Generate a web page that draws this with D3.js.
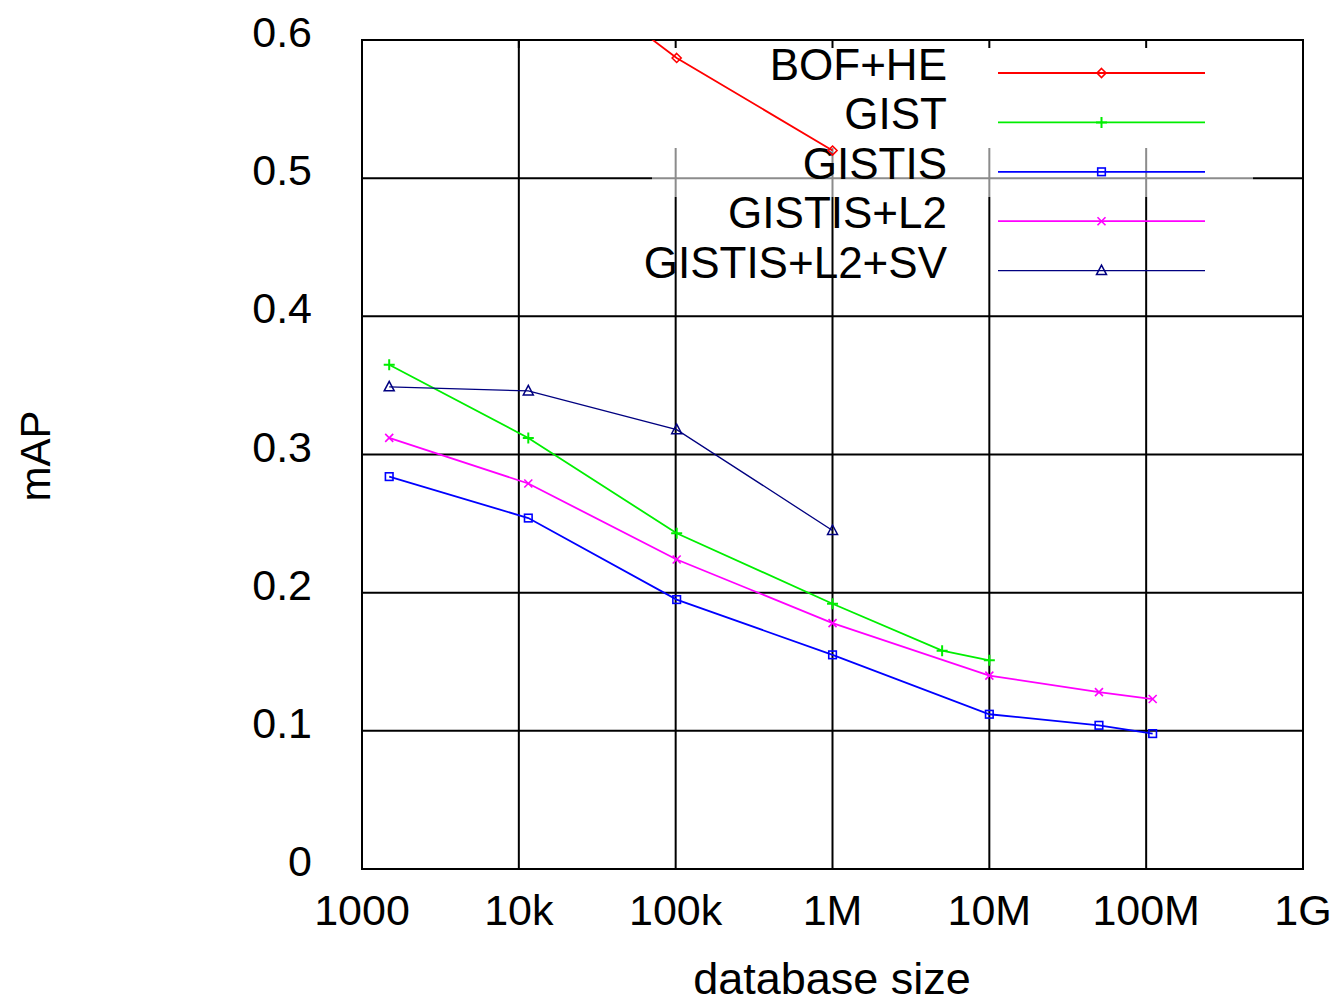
<!DOCTYPE html>
<html>
<head>
<meta charset="utf-8">
<script src="https://cdn.jsdelivr.net/npm/d3@7"></script>
<style>
	body { margin: 0; background: #fff; }
	text { font-family: "Liberation Sans", Arial, sans-serif; fill: #000; }
</style>
</head>
<body>
<svg id="chart"></svg>
<script>
// values
var seriesNames = ["BOF+HE", "GIST", "GISTIS", "GISTIS+L2", "GISTIS+L2+SV"];

var sizesBofHe = [11491, 101491, 1000491];
var mapBofHe = [0.668, 0.587, 0.520];

var sizesGist = [1491, 11491, 101491, 1000491, 5000000, 10000000];
var mapGist = [0.365, 0.312, 0.243, 0.192, 0.158, 0.151];

var sizesGistis = [1491, 11491, 101491, 1000491, 10000000, 50000000, 110000000];
var mapGistis = [0.284, 0.254, 0.195, 0.155, 0.112, 0.104, 0.098];

var sizesL2 = [1491, 11491, 101491, 1000491, 10000000, 50000000, 110000000];
var mapL2 = [0.312, 0.279, 0.224, 0.178, 0.140, 0.128, 0.123];

var sizesSV = [1491, 11491, 101491, 1000491];
var mapSV = [0.349, 0.346, 0.318, 0.245];

var xTicks = [1e3, 1e4, 1e5, 1e6, 1e7, 1e8, 1e9];
var xTickLabels = ["1000", "10k", "100k", "1M", "10M", "100M", "1G"];
var yTicks = [0, 0.1, 0.2, 0.3, 0.4, 0.5, 0.6];
var yTickLabels = ["0", "0.1", "0.2", "0.3", "0.4", "0.5", "0.6"];

(function() {
	var width = 1337, height = 1004;
	var margin = {left: 362, right: 34, top: 40, bottom: 135};
	var w = width - margin.left - margin.right,
	    h = height - margin.top - margin.bottom;

	var svg = d3.select("#chart")
	    .attr("width", width)
	    .attr("height", height);

	svg.append("defs").append("clipPath")
	    .attr("id", "clip")
	  .append("rect")
	    .attr("width", w)
	    .attr("height", h);

	var g = svg.append("g")
	    .attr("transform", "translate(" + margin.left + "," + margin.top + ")");

	var x = d3.scaleLog().domain([1e3, 1e9]).range([0, w]);
	var y = d3.scaleLinear().domain([0, 0.6]).range([h, 0]);

	var series = [
		{name: seriesNames[0], xs: sizesBofHe, ys: mapBofHe, color: "#ff0000", width: 1.8, sym: "diamond"},
		{name: seriesNames[1], xs: sizesGist, ys: mapGist, color: "#00ee00", width: 1.8, sym: "plus"},
		{name: seriesNames[2], xs: sizesGistis, ys: mapGistis, color: "#0000ff", width: 1.8, sym: "square"},
		{name: seriesNames[3], xs: sizesL2, ys: mapL2, color: "#ff00ff", width: 1.8, sym: "cross"},
		{name: seriesNames[4], xs: sizesSV, ys: mapSV, color: "#000080", width: 1.3, sym: "triangle"}
	];

	// grid
	g.selectAll(".vgrid").data(xTicks).enter().append("line")
	    .attr("x1", function(d) { return x(d); })
	    .attr("x2", function(d) { return x(d); })
	    .attr("y1", 0).attr("y2", h)
	    .attr("stroke", "#000").attr("stroke-width", 2);
	g.selectAll(".hgrid").data(yTicks).enter().append("line")
	    .attr("x1", 0).attr("x2", w)
	    .attr("y1", function(d) { return y(d); })
	    .attr("y2", function(d) { return y(d); })
	    .attr("stroke", "#000").attr("stroke-width", 2);

	// key box hides the grid behind the upper entries
	var key = {x0: 290, x1: 891, y0: 1, y1: 108, y2: 157};
	g.append("rect")
	    .attr("x", key.x0).attr("y", key.y0)
	    .attr("width", key.x1 - key.x0).attr("height", key.y1 - key.y0)
	    .attr("fill", "#fff");
	g.append("rect")
	    .attr("x", key.x0).attr("y", key.y1)
	    .attr("width", key.x1 - key.x0).attr("height", key.y2 - key.y1)
	    .attr("fill", "#fff").attr("opacity", 0.55);

	// inward ticks on top edge
	g.selectAll(".ttick").data(xTicks).enter().append("line")
	    .attr("x1", function(d) { return x(d); })
	    .attr("x2", function(d) { return x(d); })
	    .attr("y1", 0).attr("y2", 8)
	    .attr("stroke", "#000").attr("stroke-width", 2);

	// frame
	g.append("rect")
	    .attr("width", w).attr("height", h)
	    .attr("fill", "none")
	    .attr("stroke", "#000").attr("stroke-width", 2);

	// tick labels
	g.selectAll(".xlab").data(xTicks).enter().append("text")
	    .attr("x", function(d) { return x(d); })
	    .attr("y", h + 56)
	    .attr("text-anchor", "middle")
	    .style("font-size", "43px")
	    .text(function(d, i) { return xTickLabels[i]; });
	g.selectAll(".ylab").data(yTicks).enter().append("text")
	    .attr("x", -50)
	    .attr("y", function(d) { return y(d) + 7; })
	    .attr("text-anchor", "end")
	    .style("font-size", "43px")
	    .text(function(d, i) { return yTickLabels[i]; });

	// axis titles
	svg.append("text")
	    .attr("x", 832).attr("y", 994)
	    .attr("text-anchor", "middle")
	    .style("font-size", "45px")
	    .text("database size");
	svg.append("text")
	    .attr("transform", "translate(50,456) rotate(-90)")
	    .attr("text-anchor", "middle")
	    .style("font-size", "42px")
	    .text("mAP");

	var symbol = function(sel, s) {
		var r = 4.5;
		if (s.sym === "diamond") {
			sel.append("path").attr("d", "M0,-" + r + "L" + r + ",0L0," + r + "L-" + r + ",0Z")
			    .attr("fill", "none").attr("stroke", s.color).attr("stroke-width", 1.6);
		} else if (s.sym === "plus") {
			sel.append("path").attr("d", "M-5.5,0H5.5M0,-5.5V5.5")
			    .attr("stroke", s.color).attr("stroke-width", 2);
		} else if (s.sym === "square") {
			sel.append("rect").attr("x", -3.8).attr("y", -3.8).attr("width", 7.6).attr("height", 7.6)
			    .attr("fill", "none").attr("stroke", s.color).attr("stroke-width", 1.6);
		} else if (s.sym === "cross") {
			sel.append("path").attr("d", "M-4,-4L4,4M-4,4L4,-4")
			    .attr("stroke", s.color).attr("stroke-width", 1.6);
		} else {
			sel.append("path").attr("d", "M0,-5.5L5,4L-5,4Z")
			    .attr("fill", "none").attr("stroke", s.color).attr("stroke-width", 1.5);
		}
	};

	// key entries
	var rowY = function(i) { return 33 + i * 49.4; };
	series.forEach(function(s, i) {
		g.append("text")
		    .attr("x", 585)
		    .attr("y", rowY(i) + 7)
		    .attr("text-anchor", "end")
		    .style("font-size", "44px")
		    .text(s.name);
		g.append("line")
		    .attr("x1", 636).attr("x2", 843)
		    .attr("y1", rowY(i)).attr("y2", rowY(i))
		    .attr("stroke", s.color).attr("stroke-width", s.width);
		symbol(g.append("g").attr("transform", "translate(739.5," + rowY(i) + ")"), s);
	});

	// data
	var plot = g.append("g").attr("clip-path", "url(#clip)");
	var line = d3.line()
	    .x(function(d) { return x(d[0]); })
	    .y(function(d) { return y(d[1]); });

	series.forEach(function(s) {
		var pts = s.xs.map(function(v, i) { return [v, s.ys[i]]; });
		plot.append("path")
		    .datum(pts)
		    .attr("d", line)
		    .attr("fill", "none")
		    .attr("stroke", s.color)
		    .attr("stroke-width", s.width);
		pts.forEach(function(p) {
			symbol(plot.append("g").attr("transform", "translate(" + x(p[0]) + "," + y(p[1]) + ")"), s);
		});
	});
})();
</script>
</body>
</html>
